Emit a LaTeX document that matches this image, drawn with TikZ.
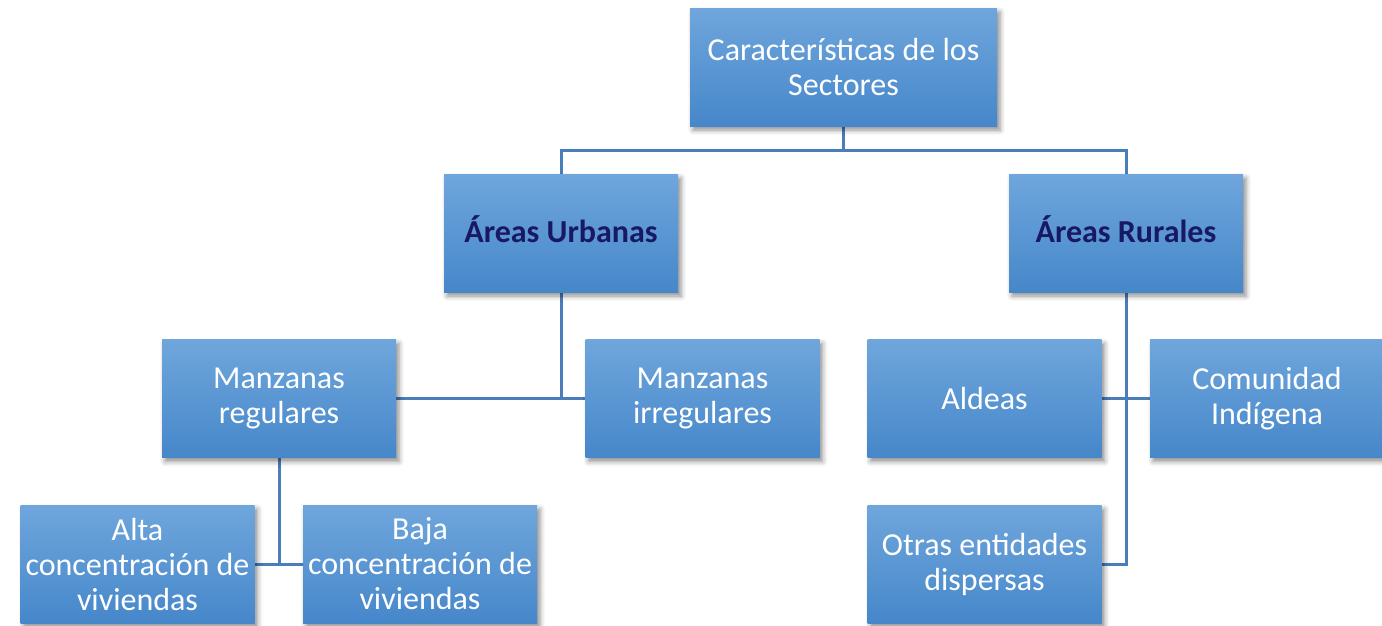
\documentclass[tikz,border=0pt]{standalone}
\usepackage{fontspec}
\setmainfont{Carlito}
\usetikzlibrary{shadows.blur,backgrounds}
\definecolor{boxtop}{RGB}{111,166,220}
\definecolor{boxbot}{RGB}{70,135,202}
\definecolor{linec}{RGB}{74,126,187}
\definecolor{navy}{RGB}{24,24,100}
\tikzset{
  box/.style={rectangle, minimum width=234pt, minimum height=118pt, inner sep=2pt,
    top color=boxtop, bottom color=boxbot, draw=none, text=white, align=center,
    font=\fontsize{32}{35}\selectfont,
    blur shadow={shadow xshift=3pt, shadow yshift=-4pt, shadow blur radius=5pt, shadow opacity=45}},
  headbox/.style={box, text=navy, font=\fontsize{32}{35}\selectfont\bfseries,
    text height=24pt, text depth=6pt},
  conn/.style={draw=linec, line width=3pt}
}
\begin{document}
\begin{tikzpicture}[x=1pt,y=-1pt]
\useasboundingbox (0,0) rectangle (1382,625);
\node[box, minimum width=307pt] (root) at (843.5,67) {Características de los\\Sectores};
\node[headbox] (urb) at (561,233) {Áreas Urbanas};
\node[headbox] (rur) at (1126,233) {Áreas Rurales};
\node[box] (reg) at (279,398.5) {Manzanas\\regulares};
\node[box] (irr) at (702.5,398.5) {Manzanas\\irregulares};
\node[box] (ald) at (984.5,398.5) {Aldeas};
\node[box] (com) at (1267,398.5) {Comunidad\\Indígena};
\node[box] (alta) at (137.5,564) {Alta\\concentración de\\viviendas};
\node[box] (baja) at (420,564) {Baja\\concentración de\\viviendas};
\node[box] (otr) at (984.5,564) {Otras entidades\\dispersas};
\coordinate (rj) at (843.5,150);
\begin{scope}[on background layer]
\draw[conn] (root.south) -- (rj);
\draw[conn] (rj) -| (urb.north);
\draw[conn] (rj) -| (rur.north);
\draw[conn] (urb.south) -- (urb.south |- reg.east);
\draw[conn] (reg.east) -- (irr.west);
\draw[conn] (rur.south) -- (rur.south |- otr.east) -- (otr.east);
\draw[conn] (ald.east) -- (com.west);
\draw[conn] (reg.south) -- (reg.south |- alta.east);
\draw[conn] (alta.east) -- (baja.west);
\end{scope}
\end{tikzpicture}
\end{document}
